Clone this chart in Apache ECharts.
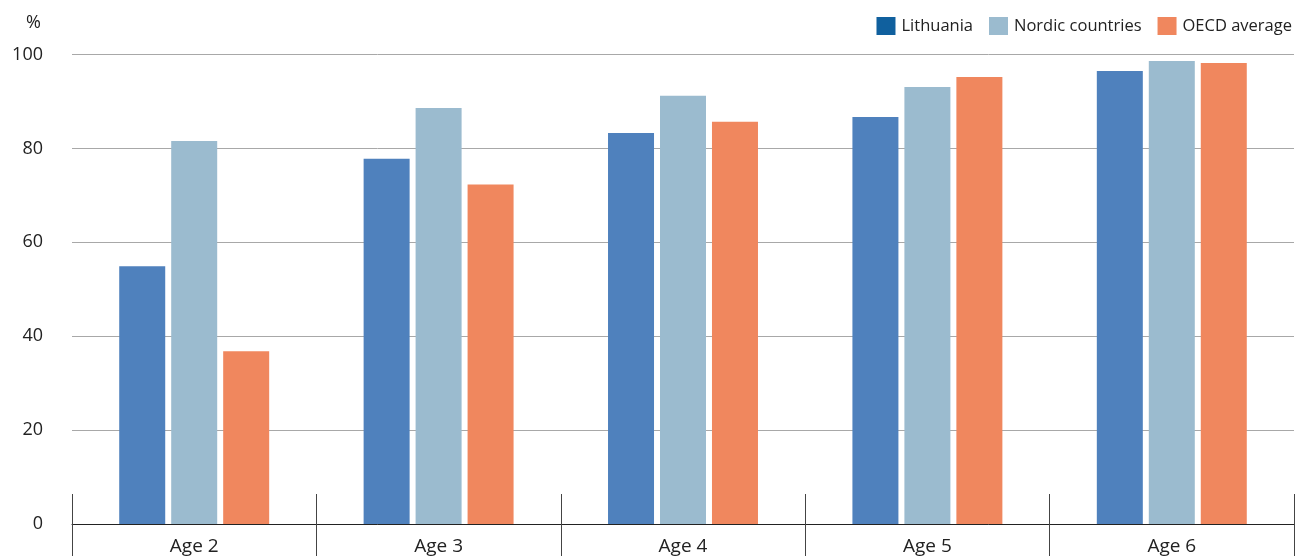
<!DOCTYPE html>
<html>
<head>
<meta charset="utf-8">
<script src="https://cdn.jsdelivr.net/npm/echarts@6/dist/echarts.min.js"></script>
<style>
  html, body { margin: 0; padding: 0; background: #fff; }
  #chart { width: 1298px; height: 556px; }
</style>
</head>
<body>
<div id="chart"></div>
<script>
// Enrolment rates by age (%)
const categories = ['Age 2', 'Age 3', 'Age 4', 'Age 5', 'Age 6'];
const lithuania = [54.9, 77.8, 83.3, 86.7, 96.5];
const nordic = [81.6, 88.6, 91.2, 93.1, 98.6];
const oecd = [36.8, 72.3, 85.7, 95.2, 98.2];
const yTicks = [0, 20, 40, 60, 80, 100];

const FONT = '"Open Sans", "Noto Sans", sans-serif';
const chart = echarts.init(document.getElementById('chart'), null, { renderer: 'canvas' });

const barStyle = (color) => ({ color: color });

chart.setOption({
  animation: false,
  textStyle: { fontFamily: FONT },
  title: {
    text: '%',
    left: 21, top: 9,
    textStyle: { fontFamily: FONT, fontSize: 18, fontWeight: 'normal', color: '#222' }
  },
  legend: {
    right: 1, top: 12,
    itemWidth: 19, itemHeight: 18, itemGap: 16,
    icon: 'rect',
    textStyle: { fontFamily: FONT, fontSize: 16.5, color: '#222', padding: [0, 0, 0, 1] },
    data: [
      { name: 'Lithuania', itemStyle: { color: '#10609E' } },
      { name: 'Nordic countries', itemStyle: { color: '#9BBBCF' } },
      { name: 'OECD average', itemStyle: { color: '#F0875E' } }
    ]
  },
  grid: { left: 72, right: 4, top: 54.5, bottom: 30.5, containLabel: false },
  xAxis: [
    {
      type: 'category',
      data: categories,
      axisLine: { lineStyle: { color: '#222', width: 1 } },
      axisTick: { show: true, length: 32, lineStyle: { color: '#444' } },
      axisLabel: { fontFamily: FONT, fontSize: 19, color: '#222', margin: 13 }
    },
    {
      // upward tick marks separating the age groups
      type: 'category',
      data: categories,
      position: 'bottom',
      axisLine: { show: false },
      axisTick: { show: true, inside: true, length: 30, lineStyle: { color: '#444' } },
      axisLabel: { show: false }
    }
  ],
  yAxis: {
    type: 'value',
    min: yTicks[0], max: yTicks[yTicks.length - 1], interval: 20,
    axisLine: { show: false },
    axisTick: { show: false },
    axisLabel: { fontFamily: FONT, fontSize: 18, color: '#222', margin: 29 },
    splitLine: { lineStyle: { color: '#a8a8a8', width: 1 } }
  },
  series: [
    { name: 'Lithuania', type: 'bar', data: lithuania, barWidth: 46, barGap: '13%', itemStyle: barStyle('#4F81BD') },
    { name: 'Nordic countries', type: 'bar', data: nordic, barWidth: 46, barGap: '13%', itemStyle: barStyle('#9BBBCF') },
    { name: 'OECD average', type: 'bar', data: oecd, barWidth: 46, barGap: '13%', itemStyle: barStyle('#F0875E') }
  ]
});
</script>
</body>
</html>
